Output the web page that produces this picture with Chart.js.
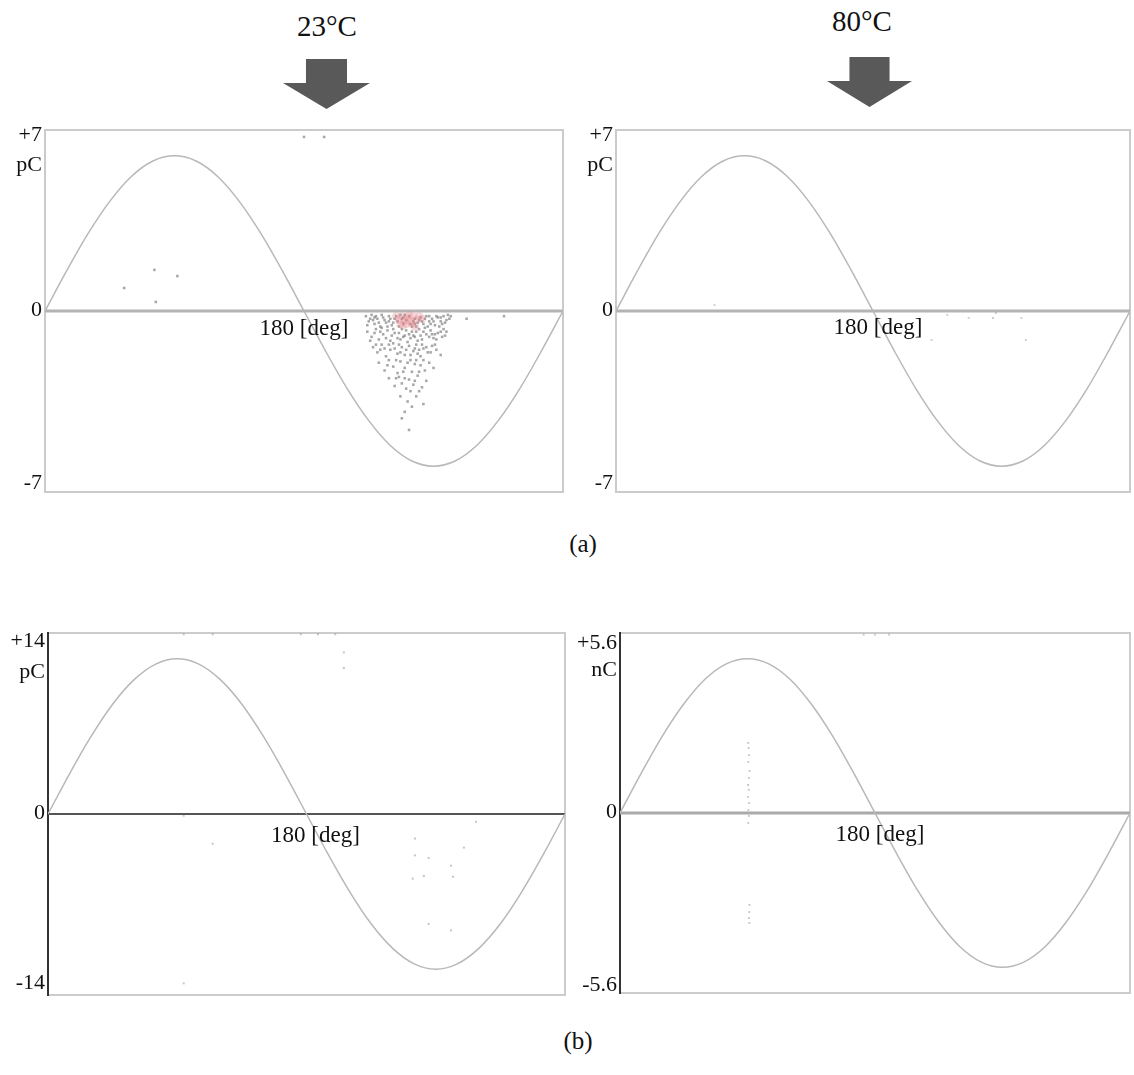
<!DOCTYPE html>
<html><head><meta charset="utf-8">
<script src="https://cdn.jsdelivr.net/npm/chart.js@4.4.1/dist/chart.umd.min.js"></script>
<style>
html,body{margin:0;padding:0;background:#fff;}
#page{position:relative;width:1134px;height:1075px;overflow:hidden;font-family:'Liberation Serif','Times New Roman',serif;color:#111;}
canvas{position:absolute;}
.t{position:absolute;font-size:29px;line-height:1;white-space:nowrap;transform:translateX(-50%);}
.cap{position:absolute;font-size:25px;line-height:1;white-space:nowrap;transform:translateX(-50%);}
.arrow{position:absolute;height:50px;background:#595959;clip-path:polygon(26.4% 0,73.6% 0,73.6% 48%,100% 48%,50% 100%,0 48%,26.4% 48%);}
</style></head>
<body><div id="page">
<div class="t" style="left:327px;top:12px">23°C</div>
<div class="t" style="left:862px;top:7px">80°C</div>
<div class="arrow" style="left:283px;top:59px;width:87px"></div>
<div class="arrow" style="left:827px;top:57px;width:85px"></div>
<canvas id="aL" width="570" height="400" style="left:0;top:110px"></canvas>
<canvas id="aR" width="564" height="400" style="left:570px;top:110px"></canvas>
<canvas id="bL" width="570" height="400" style="left:0;top:613px"></canvas>
<canvas id="bR" width="564" height="400" style="left:570px;top:613px"></canvas>
<div class="cap" style="left:583px;top:531px">(a)</div>
<div class="cap" style="left:578px;top:1028px">(b)</div>
</div>
<script>
// ---------- data ----------
const phaseDeg = [0,15,30,45,60,75,90,105,120,135,150,165,180,195,210,225,240,255,270,285,300,315,330,345,360];
// reference sine (pC / nC) per panel
const sineA  = [0,1.55,3.0,4.24,5.2,5.8,6.0,5.8,5.2,4.24,3.0,1.55,0,-1.55,-3.0,-4.24,-5.2,-5.8,-6.0,-5.8,-5.2,-4.24,-3.0,-1.55,0];
const sineBL = [0,3.11,6.0,8.49,10.39,11.59,12.0,11.59,10.39,8.49,6.0,3.11,0,-3.11,-6.0,-8.49,-10.39,-11.59,-12.0,-11.59,-10.39,-8.49,-6.0,-3.11,0];
const sineBR = [0,1.24,2.4,3.39,4.16,4.64,4.8,4.64,4.16,3.39,2.4,1.24,0,-1.24,-2.4,-3.39,-4.16,-4.64,-4.8,-4.64,-4.16,-3.39,-2.4,-1.24,0];

// y-axis tick labels and units
const ticksAL = [[7,'+7'],[0,'0'],[-7,'-7']];
const ticksAR = [[7,'+7'],[0,'0'],[-7,'-7']];
const ticksBL = [[14,'+14'],[0,'0'],[-14,'-14']];
const ticksBR = [[5.6,'+5.6'],[0,'0'],[-5.6,'-5.6']];
const unitA = 'pC', unitBL = 'pC', unitBR = 'nC';
const xLabel = '180 [deg]';

// PD pulses [phase deg, charge] — (a) 23°C
const pdA23 = [
 [223,-0.2],[225,-0.4],[227,-0.15],[229,-0.5],[231,-0.3],[233,-0.6],[235,-0.25],[237,-0.45],[239,-0.2],[241,-0.55],
 [243,-0.3],[245,-0.4],[247,-0.15],[249,-0.5],[251,-0.35],[253,-0.2],[255,-0.6],[257,-0.3],[259,-0.45],[261,-0.25],
 [263,-0.5],[265,-0.2],[267,-0.4],[269,-0.3],[271,-0.55],[273,-0.25],[275,-0.4],[277,-0.2],[279,-0.35],[281,-0.3],
 [226,-0.3],[230,-0.2],[236,-0.35],[240,-0.3],[244,-0.2],[248,-0.3],[256,-0.4],[260,-0.35],[264,-0.3],[268,-0.5],[272,-0.2],[276,-0.5],[280,-0.15],
 [224,-0.55],[228,-0.35],[232,-0.45],[234,-0.15],[238,-0.6],[242,-0.45],[246,-0.6],[250,-0.15],[254,-0.5],[258,-0.6],
 [262,-0.4],[266,-0.6],[270,-0.4],[274,-0.6],[278,-0.45],[282,-0.2],[229,-0.25],[239,-0.4],[249,-0.25],[257,-0.5],[267,-0.2],[275,-0.25],
 [224,-0.8],[227,-1.0],[230,-0.7],[232,-1.1],[235,-0.9],[238,-0.75],[240,-1.15],[243,-0.85],[245,-1.05],[248,-0.7],
 [250,-0.95],[252,-1.2],[255,-0.8],[257,-1.0],[260,-0.7],[262,-1.1],[265,-0.9],[268,-0.75],[270,-1.05],[273,-0.85],
 [276,-1.0],[279,-0.8],[226,-1.15],[234,-0.65],[241,-0.95],[247,-1.1],[253,-0.9],[259,-1.15],[264,-0.65],[271,-0.9],[277,-0.7],
 [229,-0.85],[233,-0.8],[237,-1.05],[242,-0.7],[246,-0.85],[249,-1.0],[251,-0.75],[254,-1.05],[256,-0.95],[258,-0.8],
 [261,-0.95],[263,-0.8],[267,-1.0],[269,-0.9],[272,-1.1],[275,-0.8],[278,-0.95],
 [228,-1.4],[231,-1.6],[234,-1.3],[237,-1.75],[240,-1.5],[242,-1.25],[245,-1.65],[248,-1.4],[250,-1.7],[253,-1.35],
 [256,-1.55],[258,-1.3],[261,-1.75],[263,-1.45],[266,-1.6],[269,-1.35],[272,-1.5],[275,-1.7],[246,-1.3],[260,-1.5],
 [230,-1.3],[233,-1.5],[236,-1.45],[239,-1.3],[243,-1.45],[247,-1.6],[251,-1.5],[254,-1.7],[257,-1.45],[259,-1.65],[262,-1.3],[265,-1.4],[268,-1.6],[271,-1.3],
 [232,-2.0],[236,-2.3],[239,-1.9],[242,-2.15],[245,-2.4],[247,-1.95],[250,-2.2],[252,-2.0],[255,-2.35],[258,-1.9],
 [261,-2.1],[264,-2.3],[267,-2.0],[270,-2.2],[249,-2.35],[257,-2.05],[238,-2.1],[244,-1.9],[254,-1.9],[260,-2.35],[263,-1.9],
 [239,-2.6],[243,-2.9],[246,-2.55],[248,-2.8],[251,-3.0],[253,-2.65],[256,-2.85],[259,-2.5],[262,-2.95],[265,-2.7],[254,-3.1],
 [244,-2.6],[250,-2.6],[257,-2.7],[260,-3.1],
 [247,-3.3],[252,-3.5],[258,-3.3],[255,-3.7],[250,-3.9],[248,-4.15],[263,-3.6],[253,-4.6],
 [293,-0.3],[319,-0.2],
 [55,0.89],[76,1.59],[92,1.35],[77,0.35],[180,6.73],[194,6.73]
];
const pdA23Core = [[244,-0.2],[246,-0.35],[248,-0.2],[250,-0.35],[252,-0.25],[254,-0.4],[256,-0.2],[258,-0.35],[260,-0.2],
 [251,-0.5],[255,-0.5],[253,-0.15],[249,-0.55],[262,-0.3],[247,-0.5],[257,-0.6]];
// (a) 80°C
const pdA80 = [[221,-1.12],[232,-0.15],[247,-0.27],[264,-0.27],[266,-0.08],[284,-0.27],[287,-1.12],[69,0.23]];
// (b) left
const pdBL = [[94.5,-0.13],[114.7,-2.3],[255.5,-1.9],[255.5,-3.2],[265,-3.4],[280.6,-4.0],[289.6,-2.6],[254,-5.0],[261.7,-4.8],
 [282,-4.85],[265,-8.5],[280.6,-9.0],[298,-0.6],[94.5,-13.1],[94.5,13.9],[114.7,13.9],[176,13.9],[188,13.9],[200,13.9],[206,12.5],[206,11.3]];
// (b) right (nC)
const pdBR = [[90.5,2.18],[90.8,2.02],[91.2,1.8],[90.6,1.59],[91.4,1.31],[91,1.09],[90.4,0.87],[90.9,0.72],[90.3,0.5],[91.2,0.31],
 [90.6,0.09],[91,-0.09],[90.5,-0.31],[91.4,-2.86],[91.2,-3.08],[91,-3.27],[91.3,-3.42],[172,5.55],[180,5.55],[190,5.55]];

// ---------- drawing ----------
const toXY = arr => arr.map(p => ({x:p[0], y:p[1]}));
const sineXY = vals => phaseDeg.map((d,i) => ({x:d, y:vals[i]}));

function panel(id, o){
  const frame = {
    id:'frame',
    beforeDatasetsDraw(chart){
      const {ctx, chartArea:a, scales:{y}} = chart;
      ctx.save();
      ctx.strokeStyle = o.frameColor; ctx.lineWidth = 2;
      ctx.strokeRect(a.left, a.top, a.right-a.left, a.bottom-a.top);
      if (o.leftAxisColor){
        ctx.strokeStyle = o.leftAxisColor; ctx.lineWidth = 2;
        ctx.beginPath(); ctx.moveTo(a.left, a.top-1); ctx.lineTo(a.left, a.bottom+1); ctx.stroke();
      }
      const y0 = y.getPixelForValue(0);
      ctx.strokeStyle = o.zeroColor; ctx.lineWidth = o.zeroWidth;
      ctx.beginPath(); ctx.moveTo(a.left, y0); ctx.lineTo(a.right, y0); ctx.stroke();
      ctx.restore();
    },
    afterDraw(chart){
      const {ctx, chartArea:a, scales:{x,y}} = chart;
      ctx.save();
      ctx.fillStyle = '#111';
      ctx.font = "22px 'Liberation Serif'";
      ctx.textAlign = 'right'; ctx.textBaseline = 'middle';
      const lx = a.left - 3;
      o.ticks.forEach(([v,lab]) => {
        const off = v > 0 ? o.topOff : (v < 0 ? o.botOff : -1);
        ctx.fillText(lab, lx, y.getPixelForValue(v) + off);
      });
      ctx.fillText(o.unit, lx, y.getPixelForValue(o.ticks[0][0]) + o.unitOff);
      ctx.textAlign = 'center';
      ctx.font = "23px 'Liberation Serif'";
      ctx.fillText(xLabel, x.getPixelForValue(180) + o.xlabDx, y.getPixelForValue(0) + o.xlabDy);
      ctx.restore();
    }
  };
  const datasets = [
    {type:'line', data:sineXY(o.sine), borderColor:'#b8b8b8', borderWidth:1.5, pointRadius:0, cubicInterpolationMode:'monotone', fill:false, order:3},
    {type:'scatter', data:toXY(o.pd), backgroundColor:o.pdColor, borderWidth:0, pointRadius:o.pdRadius, pointStyle:'rect', order:2}
  ];
  if (o.core) datasets.push({type:'scatter', data:toXY(o.core), backgroundColor:'rgba(225,130,135,0.3)', borderWidth:0, pointRadius:4, order:1});
  new Chart(document.getElementById(id), {
    type:'scatter',
    data:{datasets},
    options:{
      responsive:false, animation:false, events:[],
      layout:{padding:o.pad},
      plugins:{legend:{display:false}, tooltip:{enabled:false}},
      scales:{
        x:{type:'linear', min:0, max:360, display:false},
        y:{type:'linear', min:-o.max, max:o.max, display:false}
      }
    },
    plugins:[frame]
  });
}

panel('aL', {sine:sineA, pd:pdA23, core:pdA23Core, max:7, ticks:ticksAL, unit:unitA,
  pad:{left:45, right:7, top:20, bottom:18}, frameColor:'#cbcbcb', zeroColor:'#b4b4b4', zeroWidth:3,
  topOff:5, botOff:-9, unitOff:35, xlabDx:0, xlabDy:18, pdColor:'rgba(95,95,95,0.55)', pdRadius:1.8});
panel('aR', {sine:sineA, pd:pdA80, max:7, ticks:ticksAR, unit:unitA,
  pad:{left:46, right:1, top:20, bottom:18}, frameColor:'#cbcbcb', zeroColor:'#b4b4b4', zeroWidth:3,
  topOff:5, botOff:-9, unitOff:35, xlabDx:5, xlabDy:17, pdColor:'rgba(160,160,160,0.55)', pdRadius:1.3});
panel('bL', {sine:sineBL, pd:pdBL, max:14, ticks:ticksBL, unit:unitBL,
  pad:{left:48, right:5, top:20, bottom:18}, frameColor:'#cccccc', leftAxisColor:'#333', zeroColor:'#555', zeroWidth:2,
  topOff:8, botOff:-12, unitOff:39, xlabDx:9, xlabDy:22, pdColor:'rgba(150,150,150,0.55)', pdRadius:1.4});
panel('bR', {sine:sineBR, pd:pdBR, max:5.6, ticks:ticksBR, unit:unitBR,
  pad:{left:50, right:1, top:20, bottom:20}, frameColor:'#cccccc', leftAxisColor:'#333', zeroColor:'#aaaaaa', zeroWidth:3,
  topOff:10, botOff:-8, unitOff:37, xlabDx:5, xlabDy:22, pdColor:'rgba(150,150,150,0.55)', pdRadius:1.3});
</script>
</body></html>
